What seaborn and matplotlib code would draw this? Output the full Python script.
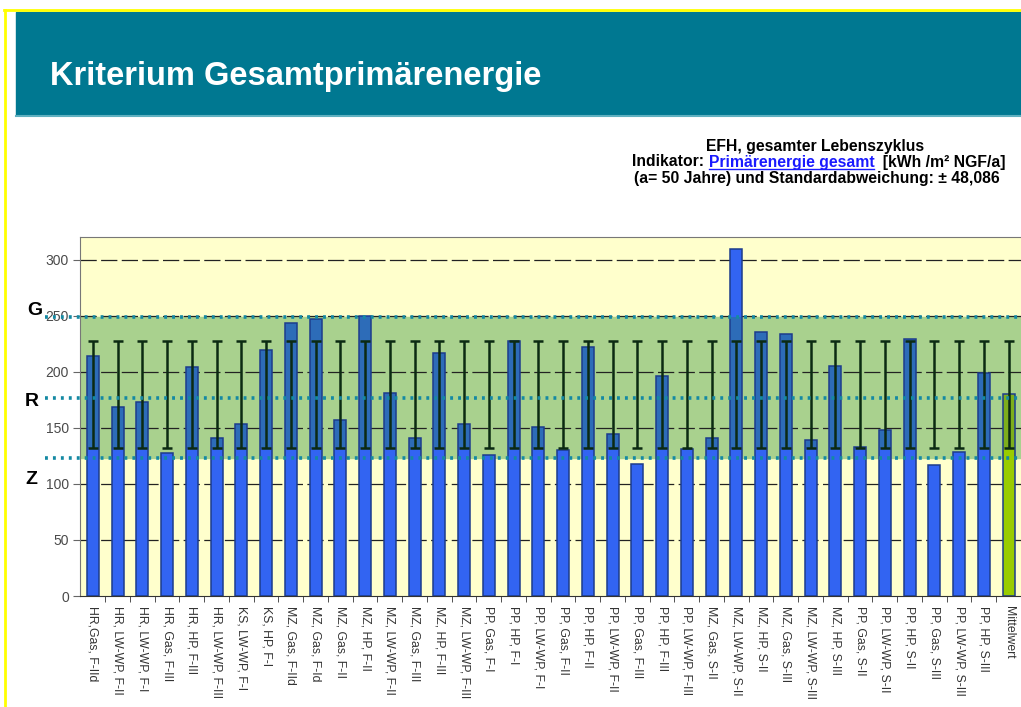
import numpy as np
import pandas as pd
import matplotlib
matplotlib.use("Agg")
import matplotlib.pyplot as plt
from matplotlib.patches import Rectangle
from matplotlib.lines import Line2D
import seaborn as sns

# ---------------------------------------------------------------------------
# data
# ---------------------------------------------------------------------------
labels = [
    "HR,Gas, F-IId", "HR, LW-WP, F-II", "HR, LW-WP, F-I", "HR, Gas, F-III",
    "HR, HP, F-III", "HR, LW-WP, F-III", "KS, LW-WP, F-I", "KS, HP, F-I",
    "MZ, Gas, F-IId", "MZ, Gas, F-Id", "MZ, Gas, F-II", "MZ, HP, F-II",
    "MZ, LW-WP, F-II", "MZ, Gas, F-III", "MZ, HP, F-III", "MZ, LW-WP, F-III",
    "PP, Gas, F-I", "PP, HP, F-I", "PP, LW-WP, F-I", "PP, Gas, F-II",
    "PP, HP, F-II", "PP, LW-WP, F-II", "PP, Gas, F-III", "PP, HP, F-III",
    "PP, LW-WP, F-III", "MZ, Gas, S-II", "MZ, LW-WP, S-II", "MZ, HP, S-II",
    "MZ, Gas, S-III", "MZ, LW-WP, S-III", "MZ, HP, S-III", "PP, Gas, S-II",
    "PP, LW-WP, S-II", "PP, HP, S-II", "PP, Gas, S-III", "PP, LW-WP, S-III",
    "PP, HP, S-III", "Mittelwert",
]
values = [
    214, 169, 173, 128, 204, 141, 154, 220,
    244, 247, 157, 250, 181, 141, 217, 154,
    126, 228, 151, 130, 222, 145, 118, 196,
    131, 141, 310, 236, 234, 139, 205, 133,
    148, 229, 117, 129, 199, 180,
]
mean_value = 180.0
std_dev = 48.086
limit_G = 249
limit_R = 177
limit_Z = 123

# ---------------------------------------------------------------------------
# colours
# ---------------------------------------------------------------------------
BLUE = "#3264f2"
BLUE_DARK = "#2d6cb8"
EDGE = "#1d3c8c"
GREEN = "#99cc00"
GREEN_DARK = "#7dae1c"
BAND = "#a9d18e"
PLOT_BG = "#ffffcc"
TEAL = "#1489a3"
HEADER = "#007891"

vals = np.array(values, dtype=float)
low = np.minimum(vals, mean_value - std_dev)
mid = np.minimum(vals, limit_G)
is_mean = [lab == "Mittelwert" for lab in labels]

df = pd.DataFrame({"label": labels, "value": vals, "low": low, "mid": mid})
pal_full = [GREEN if m else BLUE for m in is_mean]
pal_mid = [GREEN_DARK if m else BLUE_DARK for m in is_mean]
pal_low = [GREEN if m else BLUE for m in is_mean]

plt.rcParams["font.family"] = ["Liberation Sans", "DejaVu Sans"]

W, H = 1021, 707
fig = plt.figure(figsize=(W / 100, H / 100), dpi=100)
fig.patch.set_facecolor("white")

def fx(px):
    return px / W

def fy(py):
    return 1 - py / H

# slide frame + header
fig.add_artist(Rectangle((fx(16), fy(115)), fx(W - 16), 103 / H,
                         transform=fig.transFigure, color=HEADER, zorder=1))
fig.add_artist(Line2D([fx(16), 1], [fy(116), fy(116)], transform=fig.transFigure,
                      color="#5fb0c0", lw=1.5))
fig.add_artist(Line2D([fx(5), fx(5)], [0, fy(10)], transform=fig.transFigure,
                      color="#ffff00", lw=2))
fig.add_artist(Line2D([fx(4), 1], [fy(10), fy(10)], transform=fig.transFigure,
                      color="#ffff00", lw=2))
fig.text(fx(50), fy(76), "Kriterium Gesamtprimärenergie", color="white",
         fontsize=23.5, fontweight="bold", va="center", ha="left")

# ---------------------------------------------------------------------------
# chart
# ---------------------------------------------------------------------------
ax = fig.add_axes([fx(80), fy(596), 1 - fx(80), (596 - 237) / H])
ax.set_facecolor(PLOT_BG)
ax.axhspan(limit_Z, limit_G, color=BAND, zorder=0)

for y in range(50, 301, 50):
    ax.axhline(y, color="#222222", lw=0.9, ls=(0, (13, 3.5)), zorder=0.5)

bw = 0.48
sns.barplot(data=df, x="label", y="value", hue="label", palette=pal_full,
            legend=False, width=bw, linewidth=0, saturation=1, ax=ax, zorder=2)
sns.barplot(data=df, x="label", y="mid", hue="label", palette=pal_mid,
            legend=False, width=bw, linewidth=0, saturation=1, ax=ax, zorder=2.1)
sns.barplot(data=df, x="label", y="low", hue="label", palette=pal_low,
            legend=False, width=bw, linewidth=0, saturation=1, ax=ax, zorder=2.2)
sns.barplot(data=df, x="label", y="value", fill=False, color=EDGE,
            width=bw, linewidth=1.1, ax=ax, zorder=2.3)

xpos = np.arange(len(labels))
ax.errorbar(xpos, np.full(len(labels), mean_value), yerr=std_dev, fmt="none",
            ecolor="#0b2a12", elinewidth=1.8, capsize=3.5, capthick=1.8, zorder=3)

# limit lines G / R / Z
for lim in (limit_G, limit_R, limit_Z):
    ax.plot([-0.037, 1.0], [lim, lim], transform=ax.get_yaxis_transform(),
            color=TEAL, lw=2.6, ls=(0, (0.8, 1.4)), clip_on=False, zorder=4)
fig.text(fx(27), fy(310), "G", fontsize=14, fontweight="bold", va="center")
fig.text(fx(25), fy(401), "R", fontsize=14, fontweight="bold", va="center")
fig.text(fx(25), fy(479), "Z", fontsize=14, fontweight="bold", va="center")

ax.set_xlim(-0.52, len(labels) - 1 + 0.16)
ax.set_ylim(0, 320.5)
ax.set_yticks(range(0, 301, 50))
ax.tick_params(axis="y", labelsize=10, labelcolor="#4a4a4a", length=5,
               color="#666666", pad=3)
ax.set_xticks(xpos)
ax.set_xticklabels(labels, rotation=270, fontsize=8.8, color="#333333",
                   va="top", ha="center")
ax.tick_params(axis="x", length=0, pad=7)
ax.set_xticks(np.arange(len(labels)) + 0.5, minor=True)
ax.tick_params(axis="x", which="minor", length=4, color="#333333")
ax.set_xlabel("")
ax.set_ylabel("")
for side in ("left", "top", "bottom"):
    ax.spines[side].set_color("#777777")
ax.spines["bottom"].set_color("#333333")
ax.spines["right"].set_visible(False)

# header text above chart
txt_y = [146, 162, 178]
fs = 11.3
fig.text(fx(815), fy(txt_y[0]), "EFH, gesamter Lebenszyklus",
         fontsize=fs, fontweight="bold", ha="center", va="center")
fig.text(fx(817), fy(txt_y[2]), "(a= 50 Jahre) und Standardabweichung: ± 48,086",
         fontsize=fs, fontweight="bold", ha="center", va="center")

parts = [("Indikator: ", "black"), ("Primärenergie gesamt", "#1a1aff"),
         ("  [kWh /m² NGF/a]", "black")]
renderer = fig.canvas.get_renderer()
widths = []
for txt, col in parts:
    t = fig.text(0, 0, txt, fontsize=fs, fontweight="bold")
    widths.append(t.get_window_extent(renderer).width)
    t.remove()
x0 = 819 - sum(widths) / 2
for (txt, col), w in zip(parts, widths):
    fig.text(fx(x0), fy(txt_y[1]), txt, fontsize=fs, fontweight="bold",
             color=col, ha="left", va="center")
    if col != "black":
        fig.add_artist(Line2D([fx(x0), fx(x0 + w)], [fy(txt_y[1] + 7)] * 2,
                              transform=fig.transFigure, color=col, lw=1.0))
    x0 += w

fig.savefig("out.png", dpi=100)
